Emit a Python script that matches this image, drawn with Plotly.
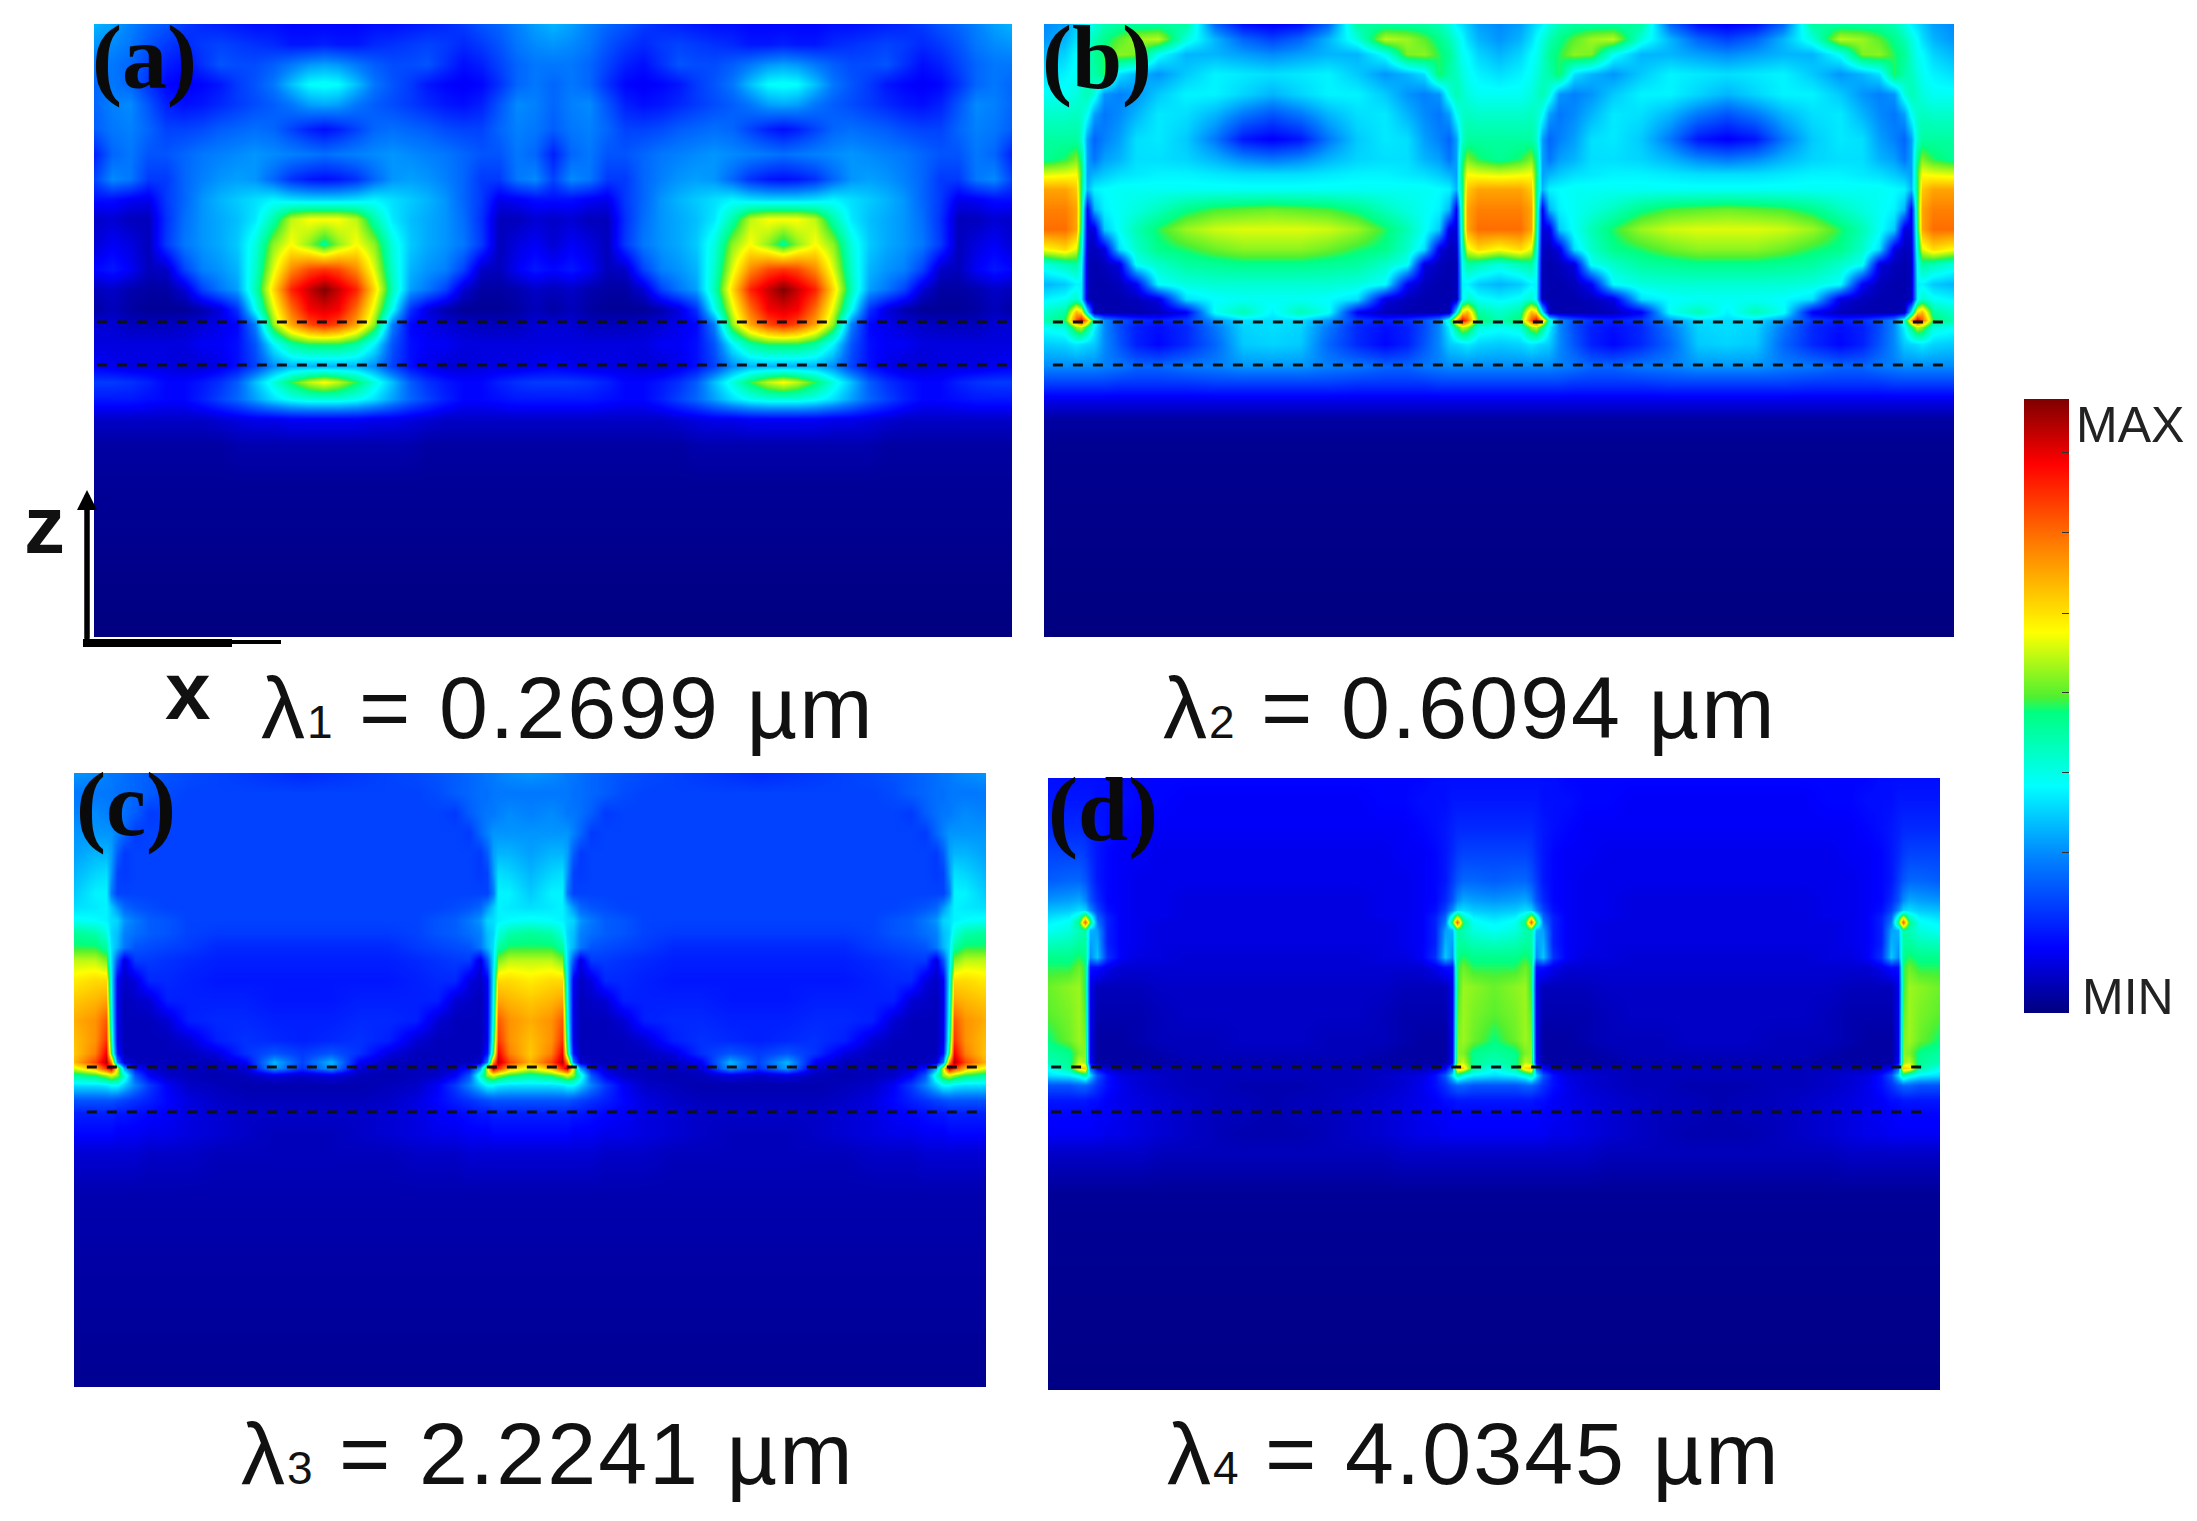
import numpy as np
import plotly.graph_objects as go

W, H = 2197, 1521

# distance from the gap centre to the sphere centre, half of one period
COLS_A = [0, 50, 100, 150, 200, 250, 300, 350, 400, 450, 500, 550, 600, 640]
COLS_WALL = [0, 60, 90, 105, 120, 140, 170, 210, 260, 320, 400, 480, 560, 640]

DEPTH_A = [0, 20, 40, 60, 80, 105, 130, 155, 175, 195, 220, 245, 265, 285, 300, 320, 342, 358, 375, 395, 420, 460, 613]
FIELD_A = [
 [.30,.28,.25,.22,.20,.17,.15,.14,.13,.12,.12,.11,.11,.11],
 [.27,.26,.24,.20,.17,.15,.17,.18,.17,.16,.15,.13,.13,.14],
 [.24,.24,.22,.18,.14,.12,.16,.20,.19,.19,.21,.24,.27,.28],
 [.22,.24,.22,.16,.11,.10,.11,.13,.17,.20,.24,.31,.37,.38],
 [.22,.25,.26,.20,.14,.12,.13,.15,.17,.19,.21,.24,.28,.29],
 [.21,.24,.25,.22,.18,.18,.19,.21,.22,.23,.22,.18,.14,.12],
 [.14,.22,.24,.20,.20,.22,.24,.25,.26,.27,.26,.25,.24,.23],
 [.18,.26,.24,.17,.17,.22,.25,.27,.28,.27,.22,.16,.13,.12],
 [.12,.12,.10,.09,.17,.22,.27,.30,.32,.34,.36,.34,.33,.33],
 [.06,.07,.05,.05,.16,.23,.27,.29,.31,.35,.45,.58,.62,.62],
 [.07,.10,.08,.05,.17,.24,.27,.29,.32,.40,.55,.62,.55,.47],
 [.11,.13,.10,.05,.06,.18,.25,.27,.30,.42,.60,.75,.82,.84],
 [.05,.06,.04,.03,.03,.07,.18,.24,.28,.44,.66,.86,.94,1.0],
 [.03,.05,.03,.02,.02,.02,.04,.08,.16,.38,.60,.78,.90,.92],
 [.07,.07,.05,.05,.05,.06,.07,.09,.11,.25,.55,.72,.82,.86],
 [.08,.08,.08,.08,.08,.08,.10,.10,.12,.20,.36,.46,.50,.50],
 [.10,.09,.08,.08,.08,.07,.07,.09,.12,.18,.26,.30,.30,.30],
 [.17,.17,.16,.14,.11,.11,.13,.16,.21,.31,.40,.50,.58,.62],
 [.13,.13,.13,.12,.11,.11,.14,.18,.22,.28,.34,.38,.40,.40],
 [.06,.06,.06,.06,.06,.06,.06,.07,.08,.09,.09,.10,.10,.10],
 [.03,.03,.03,.03,.03,.03,.03,.03,.04,.04,.04,.04,.04,.04],
 [.02,.02,.02,.02,.02,.02,.02,.02,.02,.02,.02,.02,.02,.02],
 [.00,.00,.00,.00,.00,.00,.00,.00,.00,.00,.00,.00,.00,.00],
]

DEPTH_B = [0, 15, 30, 50, 70, 90, 115, 135, 150, 165, 185, 205, 225, 240, 260, 275, 288, 296, 303, 320, 342, 360, 375, 395, 420, 613]
FIELD_B = [
 [.26,.28,.32,.34,.36,.40,.44,.46,.46,.46,.46,.22,.12,.10],
 [.27,.30,.34,.37,.40,.44,.48,.52,.56,.58,.40,.30,.22,.18],
 [.30,.33,.37,.38,.42,.47,.50,.55,.54,.38,.30,.30,.28,.26],
 [.34,.36,.38,.40,.43,.45,.50,.34,.30,.27,.32,.36,.35,.34],
 [.38,.38,.40,.42,.44,.40,.27,.25,.27,.32,.36,.36,.33,.30],
 [.42,.42,.43,.42,.38,.28,.24,.26,.30,.35,.34,.30,.24,.20],
 [.46,.46,.46,.42,.28,.22,.25,.28,.34,.35,.32,.24,.13,.10],
 [.47,.50,.54,.48,.28,.24,.28,.30,.34,.34,.33,.30,.26,.24],
 [.60,.61,.62,.50,.28,.30,.32,.34,.35,.36,.36,.35,.34,.34],
 [.72,.72,.68,.48,.30,.36,.37,.38,.38,.38,.38,.38,.38,.38],
 [.76,.76,.72,.48,.10,.30,.36,.38,.40,.43,.48,.51,.52,.53],
 [.78,.78,.72,.46,.08,.08,.32,.38,.44,.50,.56,.59,.60,.60],
 [.62,.66,.60,.42,.06,.05,.08,.34,.42,.48,.50,.53,.55,.55],
 [.40,.44,.46,.38,.05,.04,.05,.08,.38,.42,.46,.47,.48,.48],
 [.30,.32,.36,.36,.05,.04,.04,.05,.10,.37,.40,.41,.41,.41],
 [.36,.38,.42,.36,.05,.04,.04,.04,.05,.08,.34,.37,.38,.38],
 [.42,.46,.70,.65,.36,.05,.04,.04,.04,.05,.10,.38,.44,.36],
 [.44,.50,.80,.90,.70,.42,.26,.20,.16,.14,.17,.27,.34,.34],
 [.38,.40,.55,.58,.48,.36,.26,.19,.14,.12,.15,.24,.33,.34],
 [.32,.33,.35,.34,.33,.32,.26,.20,.14,.11,.15,.22,.32,.33],
 [.26,.26,.26,.26,.26,.26,.25,.24,.22,.22,.24,.25,.27,.27],
 [.17,.17,.17,.17,.17,.17,.17,.16,.16,.16,.16,.17,.17,.17],
 [.09,.09,.09,.09,.09,.09,.09,.09,.09,.09,.09,.09,.09,.09],
 [.03,.03,.03,.03,.03,.03,.03,.03,.03,.03,.03,.03,.03,.03],
 [.015,.015,.015,.015,.015,.015,.015,.015,.015,.015,.015,.015,.015,.015],
 [.00,.00,.00,.00,.00,.00,.00,.00,.00,.00,.00,.00,.00,.00],
]

DEPTH_C = [0, 20, 40, 60, 80, 100, 120, 134, 147, 160, 174, 187, 207, 227, 247, 267, 280, 289, 295, 302, 312, 327, 340, 360, 380, 420, 614]
FIELD_C = [
 [.27,.26,.25,.24,.24,.23,.22,.21,.20,.19,.18,.17,.16,.15],
 [.24,.24,.24,.24,.23,.23,.22,.21,.19,.18,.18,.18,.18,.18],
 [.25,.26,.25,.24,.24,.23,.21,.17,.18,.18,.18,.18,.18,.18],
 [.27,.27,.27,.27,.25,.22,.17,.18,.18,.18,.18,.18,.18,.18],
 [.28,.30,.30,.28,.21,.17,.18,.18,.18,.18,.18,.18,.18,.18],
 [.30,.33,.34,.27,.18,.17,.18,.18,.18,.18,.18,.18,.18,.18],
 [.32,.36,.36,.24,.18,.18,.18,.18,.18,.18,.18,.18,.18,.18],
 [.34,.35,.36,.32,.27,.22,.20,.19,.18,.18,.18,.18,.18,.18],
 [.38,.37,.36,.34,.33,.27,.24,.21,.20,.18,.18,.18,.18,.18],
 [.47,.45,.40,.33,.31,.25,.23,.21,.20,.18,.17,.17,.17,.17],
 [.50,.50,.46,.34,.30,.24,.20,.19,.18,.17,.15,.15,.15,.15],
 [.58,.58,.54,.34,.20,.08,.17,.17,.16,.15,.14,.14,.14,.14],
 [.64,.66,.66,.36,.10,.06,.08,.15,.15,.14,.13,.13,.13,.13],
 [.68,.70,.72,.38,.09,.05,.06,.07,.14,.14,.14,.14,.13,.13],
 [.71,.74,.80,.40,.09,.05,.05,.05,.07,.14,.15,.15,.14,.14],
 [.69,.74,.84,.44,.09,.05,.05,.05,.05,.07,.14,.16,.15,.14],
 [.68,.76,.90,.50,.12,.05,.05,.05,.05,.05,.08,.16,.20,.17],
 [.70,.82,.95,.75,.25,.07,.05,.05,.05,.05,.05,.10,.30,.18],
 [.60,.70,.85,.94,.60,.28,.12,.07,.05,.05,.05,.07,.28,.16],
 [.46,.50,.56,.60,.55,.42,.20,.10,.06,.05,.04,.05,.08,.06],
 [.34,.34,.35,.37,.37,.32,.25,.17,.10,.06,.05,.04,.04,.04],
 [.20,.20,.20,.20,.19,.18,.16,.14,.11,.08,.06,.05,.05,.05],
 [.14,.14,.14,.14,.13,.13,.12,.11,.10,.08,.07,.06,.06,.06],
 [.11,.11,.11,.11,.10,.10,.10,.09,.09,.08,.07,.06,.05,.05],
 [.07,.07,.07,.07,.07,.07,.07,.06,.06,.06,.05,.05,.05,.05],
 [.04,.04,.04,.04,.04,.04,.04,.04,.04,.04,.04,.04,.04,.04],
 [.015,.015,.015,.015,.015,.015,.015,.015,.015,.015,.015,.015,.015,.015],
]

DEPTH_D = [0, 22, 49, 75, 102, 122, 132, 139, 144, 152, 165, 179, 189, 209, 235, 262, 275, 284, 290, 297, 307, 322, 335, 355, 375, 415, 612]
FIELD_D = [
 [.12,.12,.12,.12,.12,.12,.12,.11,.11,.11,.11,.11,.11,.11],
 [.13,.13,.13,.13,.13,.12,.12,.12,.11,.11,.10,.10,.10,.10],
 [.15,.15,.15,.15,.14,.13,.12,.11,.10,.10,.10,.10,.10,.10],
 [.18,.18,.18,.17,.15,.13,.11,.10,.10,.09,.09,.09,.09,.09],
 [.21,.22,.22,.20,.17,.13,.11,.10,.09,.09,.09,.09,.09,.09],
 [.27,.28,.29,.26,.20,.15,.11,.10,.09,.09,.08,.08,.08,.08],
 [.31,.32,.34,.33,.26,.18,.12,.10,.09,.09,.08,.08,.08,.08],
 [.34,.36,.42,.60,.42,.22,.14,.10,.09,.09,.08,.08,.08,.08],
 [.36,.38,.48,.80,.50,.24,.14,.10,.09,.08,.08,.08,.08,.08],
 [.38,.40,.44,.46,.30,.28,.14,.10,.09,.08,.08,.08,.08,.08],
 [.43,.44,.46,.46,.28,.30,.14,.10,.09,.08,.08,.08,.08,.08],
 [.48,.48,.50,.48,.26,.32,.16,.10,.08,.08,.07,.07,.07,.07],
 [.50,.50,.53,.50,.12,.12,.09,.07,.07,.07,.07,.07,.07,.07],
 [.53,.55,.56,.50,.09,.05,.05,.05,.05,.06,.06,.06,.06,.06],
 [.52,.54,.56,.52,.09,.04,.04,.04,.04,.05,.06,.06,.06,.06],
 [.49,.53,.56,.54,.09,.03,.03,.03,.04,.05,.05,.05,.06,.06],
 [.46,.48,.54,.55,.09,.03,.03,.03,.03,.04,.05,.05,.05,.05],
 [.44,.47,.58,.56,.10,.03,.03,.03,.03,.03,.04,.04,.04,.04],
 [.38,.46,.66,.68,.22,.10,.06,.05,.05,.05,.05,.05,.05,.05],
 [.34,.36,.40,.46,.34,.20,.12,.08,.07,.06,.05,.05,.05,.05],
 [.20,.20,.22,.22,.20,.16,.12,.09,.07,.06,.05,.05,.04,.04],
 [.13,.13,.13,.13,.12,.12,.10,.09,.08,.07,.06,.05,.05,.04],
 [.11,.11,.11,.11,.11,.10,.10,.09,.08,.07,.06,.05,.05,.04],
 [.10,.10,.10,.10,.10,.10,.09,.09,.08,.07,.06,.05,.04,.04],
 [.06,.06,.06,.06,.06,.06,.06,.06,.06,.05,.05,.05,.05,.05],
 [.02,.02,.02,.02,.02,.02,.02,.02,.02,.02,.02,.02,.02,.02],
 [.005,.005,.005,.005,.005,.005,.005,.005,.005,.005,.005,.005,.005,.005],
]

PANEL_NAMES = ["(a)", "(b)", "(c)", "(d)"]
WAVELENGTHS = ["0.2699", "0.6094", "2.2241", "4.0345"]
COLORBAR_LABELS = ["MAX", "MIN"]
COLORBAR_TICKS = [.262, .391, .522, .651, .783, .913]
INTERFACE_DEPTHS = [(298, 341), (298, 341), (294, 339), (289, 334)]

JET = [[0, "#00007f"], [.106, "#0000ff"], [.25, "#0080ff"], [.37, "#00ffff"], [.49, "#00ff80"],
       [.515, "#50f030"], [.62, "#ffff00"], [.76, "#ff8000"], [.895, "#ff0000"], [1, "#7f0000"]]

# pixel boxes: left, right, top, bottom
BOXES = [(94, 1012, 24, 637), (1044, 1954, 24, 637), (74, 986, 773, 1387), (1048, 1940, 778, 1390)]
DASH_X = [(8, 2560), (25, 2549), (36, 2557), (9, 2523)]
LABEL_POS = [(90, 58), (1040, 58), (74, 805), (1046, 810)]
LAMBDA_POS = [(259, 708), (1161, 708), (239, 1453), (1165, 1453)]

px = lambda x: x / W
py = lambda y: 1 - y / H


def tile(cols, field):
    """Mirror the half-period table and repeat it across the two periods shown."""
    c = np.array(cols, float)
    f = np.array(field, float)
    x = np.concatenate([c, 1280 - c[-2::-1], 1280 + c[1:], 2560 - c[-2::-1]])
    z = np.hstack([f, f[:, -2::-1], f[:, 1:], f[:, -2::-1]])
    return x, z


fig = go.Figure()
sources = [(COLS_A, DEPTH_A, FIELD_A), (COLS_WALL, DEPTH_B, FIELD_B),
           (COLS_WALL, DEPTH_C, FIELD_C), (COLS_WALL, DEPTH_D, FIELD_D)]
layout = {}
for i, (cols, depth, field) in enumerate(sources):
    assert len(depth) == len(field) and all(len(r) == len(cols) for r in field)
    n = "" if i == 0 else str(i + 1)
    l, r, t, b = BOXES[i]
    x, z = tile(cols, field)
    fig.add_trace(go.Heatmap(x=x, y=depth, z=z, coloraxis="coloraxis", zsmooth="best",
                             xaxis="x" + n, yaxis="y" + n, hoverinfo="skip"))
    for d in INTERFACE_DEPTHS[i]:
        fig.add_trace(go.Scatter(x=list(DASH_X[i]), y=[d, d], mode="lines", xaxis="x" + n, yaxis="y" + n,
                                 line=dict(color="#101010", width=3, dash="10px,10px"),
                                 showlegend=False, hoverinfo="skip"))
    layout["xaxis" + n] = dict(domain=[px(l), px(r)], range=[0, 2560], visible=False, anchor="y" + n)
    layout["yaxis" + n] = dict(domain=[py(b), py(t)], range=[b - t, 0], visible=False, anchor="x" + n)

ann = []
for name, (x, y) in zip(PANEL_NAMES, LABEL_POS):
    ann.append(dict(text=f"<b>{name}</b>", x=px(x), y=py(y),
                    font=dict(family="Liberation Serif", size=90, color="#0a0a0a"),
                    xanchor="left", yanchor="middle", showarrow=False, xref="paper", yref="paper"))
for i, (wl, (x, y)) in enumerate(zip(WAVELENGTHS, LAMBDA_POS)):
    label = (f'<span style="letter-spacing:2px">λ</span><span style="font-size:46px">{i + 1}</span>'
             f'<span style="letter-spacing:2px"> = {wl} µm</span>')
    ann.append(dict(text=label, x=px(x), y=py(y),
                    font=dict(family="Liberation Sans", size=88, color="#111111"),
                    xanchor="left", yanchor="middle", showarrow=False, xref="paper", yref="paper"))
for t, x, y in [(COLORBAR_LABELS[0], 2074, 425), (COLORBAR_LABELS[1], 2080, 997)]:
    ann.append(dict(text=t, x=px(x), y=py(y), font=dict(family="Liberation Sans", size=50, color="#222222"),
                    xanchor="left", yanchor="middle", showarrow=False, xref="paper", yref="paper"))
for t, x, y in [("z", 44, 524), ("x", 188, 690)]:
    ann.append(dict(text=f"<b>{t}</b>", x=px(x), y=py(y), font=dict(family="Liberation Sans", size=82, color="#111111"),
                    xanchor="center", yanchor="middle", showarrow=False, xref="paper", yref="paper"))
ann.append(dict(text="", x=px(87), y=py(490), ax=0, ay=150, xref="paper", yref="paper", showarrow=True,
                arrowhead=2, arrowsize=0.8, arrowwidth=5, arrowcolor="#000000"))

lines = [(87, 645, 87, 505, 5), (83, 643, 232, 643, 8), (232, 642, 281, 642, 4)]
shapes = [dict(type="line", xref="paper", yref="paper", x0=px(a), y0=py(b), x1=px(c), y1=py(d),
               line=dict(color="#000000", width=w)) for a, b, c, d, w in lines]

fig.update_layout(
    width=W, height=H, margin=dict(l=0, r=0, t=0, b=0), paper_bgcolor="white", plot_bgcolor="white",
    showlegend=False, annotations=ann, shapes=shapes,
    coloraxis=dict(cmin=0, cmax=1, colorscale=JET, colorbar=dict(
        x=px(2024), xanchor="left", y=py(399), yanchor="top", xpad=0, ypad=0,
        thickness=45, thicknessmode="pixels", len=614, lenmode="pixels", outlinewidth=0,
        tickvals=COLORBAR_TICKS, ticks="inside", ticklen=7, tickcolor="#333333", showticklabels=False)),
    **layout)
fig.write_html("out.html", config={"displayModeBar": False},
               post_script="document.body.style.margin='0';document.documentElement.style.overflow='hidden';")
